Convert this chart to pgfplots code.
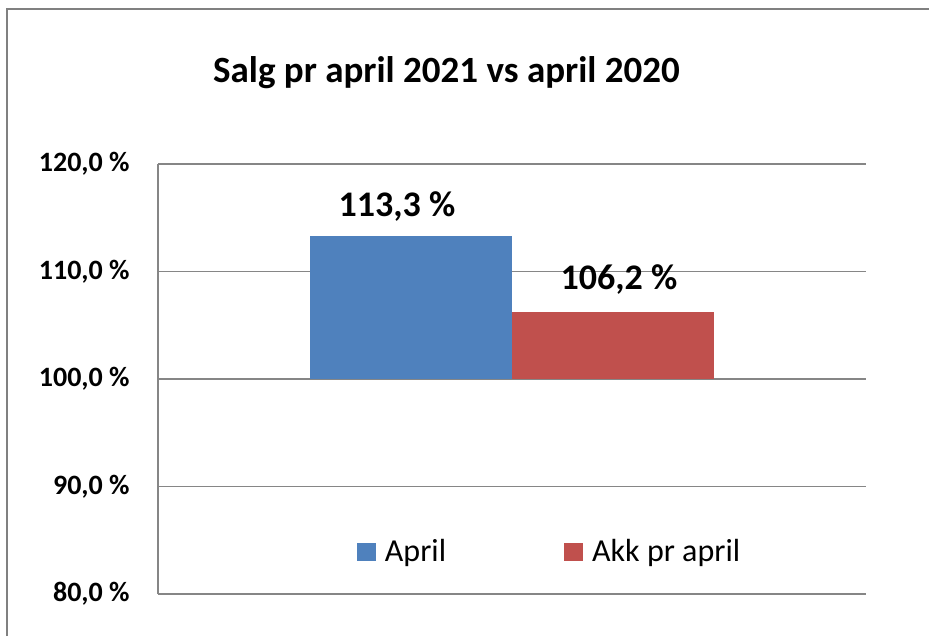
\documentclass[border=0pt]{standalone}
\usepackage{pgfplots}
\pgfplotsset{compat=1.18}
\usepackage{fontspec}
\setmainfont{Carlito}
\definecolor{barblue}{RGB}{79,129,189}
\definecolor{barred}{RGB}{192,80,77}
\definecolor{gridgray}{RGB}{134,134,134}
\definecolor{framegray}{RGB}{128,128,128}
\begin{document}
\begin{tikzpicture}
\useasboundingbox (0,0) rectangle (464.5pt,318pt);
\fill[white] (0,0) rectangle (464.5pt,318pt);
\draw[framegray, line width=0.8pt] (3.5pt,0pt) -- (3.5pt,313.5pt);
\draw[framegray, line width=0.8pt] (3.1pt,313.5pt) -- (464.5pt,313.5pt);
\node[anchor=base, font=\bfseries\fontsize{18.5}{22}\selectfont] at (223.25pt,276.5pt) {Salg pr april 2021 vs april 2020};
\begin{axis}[
  at={(79pt,21pt)}, anchor=south west,
  scale only axis, width=354pt, height=215pt,
  xmin=-0.5, xmax=0.5, ymin=80, ymax=120,
  y coord trafo/.code={\pgfmathparse{#1-100}},
  y coord inv trafo/.code={\pgfmathparse{#1+100}},
  ybar=0pt, bar width=0.2853,
  xtick=\empty,
  ytick={80,90,100,110,120},
  yticklabels={{80,0 \%}, {90,0 \%}, {100,0 \%}, {110,0 \%}, {120,0 \%}},
  yticklabel style={font=\bfseries\fontsize{14}{16}\selectfont, inner sep=0pt, xshift=-14pt},
  major tick length=0pt,
  ymajorgrids,
  grid style={gridgray, line width=0.6pt},
  axis x line*=bottom, axis y line*=left,
  axis line style={gridgray, line width=0.6pt, -},
  clip=false,
  point meta=explicit,
  nodes near coords={\pgfmathprintnumber[fixed,fixed zerofill,precision=1,use comma,assume math mode=true]{\pgfplotspointmeta}~\%},
  every node near coord/.append style={font=\bfseries\fontsize{18}{20}\selectfont, anchor=base, text=black},
  legend columns=2,
  legend style={draw=none, fill=none, inner sep=0pt, outer sep=0pt, anchor=west, at={(0.281,0.0977)},
    nodes={inner sep=0pt, font=\fontsize{16}{18}\selectfont},
    /tikz/every odd column/.append style={column sep=4.5pt},
    /tikz/every even column/.append style={column sep=59pt}},
]
\addplot[fill=barblue, draw=none,
  every node near coord/.append style={yshift=10pt, xshift=-7pt},
  legend image code/.code={\fill[barblue] (0pt,-4.5pt) rectangle (9.5pt,4.5pt);}]
  coordinates {(0,113.3) [113.3]};
\addlegendentry{April}
\addplot[fill=barred, draw=none,
  every node near coord/.append style={yshift=11.5pt, xshift=3pt},
  legend image code/.code={\fill[barred] (0pt,-4.5pt) rectangle (9.5pt,4.5pt);}]
  coordinates {(0,106.2) [106.2]};
\addlegendentry{Akk pr april}
\end{axis}
\end{tikzpicture}
\end{document}
